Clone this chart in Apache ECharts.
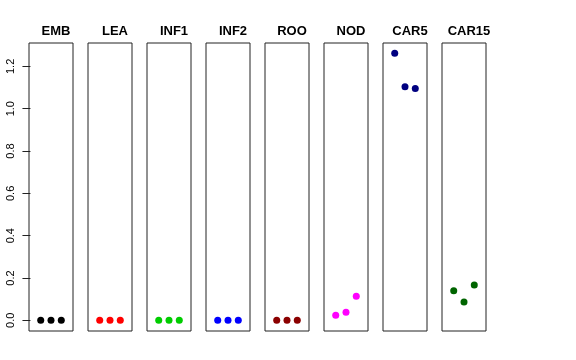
<!DOCTYPE html>
<html><head><meta charset="utf-8">
<script src="https://cdn.jsdelivr.net/npm/echarts@6/dist/echarts.min.js"></script>
<style>html,body{margin:0;padding:0;background:#fff}#c{width:576px;height:360px}</style>
</head><body><div id="c"></div>
<script>
const categories = ["EMB","LEA","INF1","INF2","ROO","NOD","CAR5","CAR15"];
const colors = ["#000000","#FF0000","#00CD00","#0000FF","#8B0000","#FF00FF","#000080","#006400"];
const xPositions = [1,2,3];
const valEMB = [0,0,0];
const valLEA = [0,0,0];
const valINF1 = [0,0,0];
const valINF2 = [0,0,0];
const valROO = [0,0,0];
const valNOD = [0.024,0.038,0.114];
const valCAR5 = [1.262,1.104,1.096];
const valCAR15 = [0.140,0.087,0.167];
const yTicks = [0,0.2,0.4,0.6,0.8,1.0,1.2];
const allVals = [valEMB,valLEA,valINF1,valINF2,valROO,valNOD,valCAR5,valCAR15];

const chart = echarts.init(document.getElementById('c'));
const panelLeft0 = 29, panelStep = 59, panelW = 44, panelTop = 43, panelH = 288;
const grids = [], xAxes = [], yAxes = [], series = [], titles = [];
categories.forEach((cat, i) => {
  const left = panelLeft0 + i * panelStep;
  grids.push({left: left, top: panelTop, width: panelW, height: panelH, show: true,
    borderColor: '#222', borderWidth: 1, backgroundColor: 'transparent'});
  xAxes.push({type: 'value', gridIndex: i, min: -0.14, max: 4.14, show: false});
  yAxes.push({type: 'value', gridIndex: i, min: -0.0505, max: 1.3105,
    show: i === 0,
    axisLine: {show: false},
    splitLine: {show: false},
    axisTick: {show: i === 0, customValues: yTicks, length: 8, lineStyle: {color: '#222'}},
    axisLabel: {show: i === 0, customValues: yTicks, rotate: 90, margin: 13,
      fontSize: 11, color: '#000', fontFamily: 'Liberation Sans',
      formatter: v => v.toFixed(1)}
  });
  series.push({type: 'scatter', xAxisIndex: i, yAxisIndex: i, symbolSize: 7,
    itemStyle: {color: colors[i], opacity: 1},
    data: xPositions.map((x, k) => [x, allVals[i][k]])});
  titles.push({text: cat, left: left + panelW / 2, top: 20, textAlign: 'center',
    textStyle: {fontSize: 13, fontWeight: 'bold', color: '#000', fontFamily: 'Liberation Sans'}});
});
chart.setOption({animation: false, title: titles, grid: grids, xAxis: xAxes, yAxis: yAxes, series: series});
</script></body></html>
